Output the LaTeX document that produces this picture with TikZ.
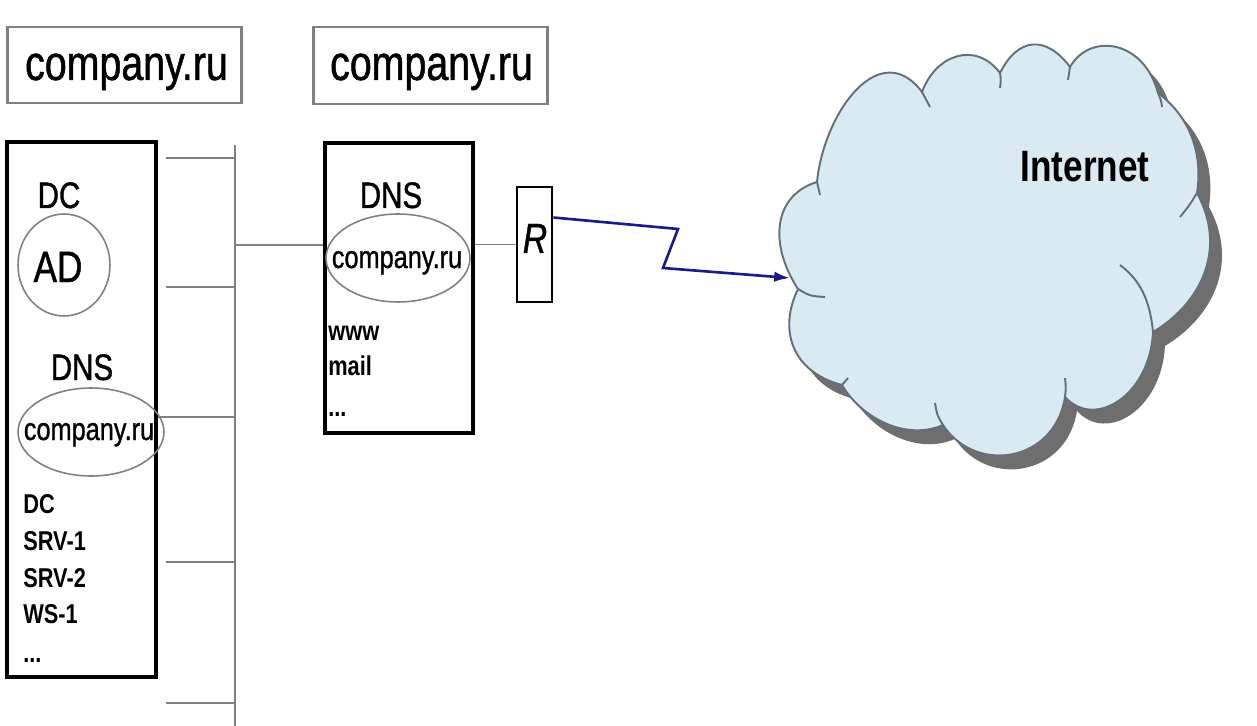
\documentclass[tikz,border=0pt]{standalone}
\usepackage{fontspec}
\setmainfont[FakeStretch=0.8, UprightFeatures={FakeBold=1}, ItalicFeatures={FakeBold=1}]{Liberation Sans}
\usetikzlibrary{arrows.meta,shadows,shapes.geometric}

\definecolor{wiregray}{RGB}{128,128,128}
\definecolor{cloudfill}{RGB}{218,234,243}
\definecolor{cloudline}{RGB}{100,112,120}
\definecolor{linkblue}{RGB}{26,26,140}

\newcommand\etcdots{...}

\tikzset{
  lblbox/.style={draw=wiregray, line width=1.2pt, inner sep=0pt, minimum width=4.68cm, minimum height=1.53cm},
  hostbox/.style={draw=black, line width=2.6pt, inner sep=0pt},
  zone/.style={draw=wiregray, ellipse, line width=0.9pt, inner sep=0pt},
  wire/.style={draw=wiregray, line width=1.1pt},
  txt/.style={inner sep=0pt, anchor=base},
  bigtxt/.style={txt, font=\fontsize{28}{32}\selectfont},
  headtxt/.style={txt, font=\fontsize{21}{24}\selectfont},
  zonetxt/.style={txt, font=\fontsize{18}{21}\selectfont},
  listtxt/.style={inner sep=0pt, anchor=base west, font=\bfseries\fontsize{15.5}{18}\selectfont},
  cloudedge/.style={draw=cloudline, line width=1.1pt}
}

\begin{document}
\begin{tikzpicture}[x=0.02cm, y=-0.02cm]
\useasboundingbox (0,0) rectangle (1257,726);

% zone labels
\node[lblbox] (lblA) at (124.5,65) {};
\node[bigtxt] (lblAtxt) at (126.5,80) {company.ru};
\node[lblbox] (lblB) at (430.5,65.5) {};
\node[bigtxt] (lblBtxt) at (431.5,80) {company.ru};

% domain controller
\node[hostbox, minimum width=2.98cm, minimum height=10.7cm] (dcbox) at (81.5,409.5) {};
\node[headtxt] (dchead) at (59,208) {DC};
\node[zone, minimum width=1.84cm, minimum height=2.04cm] (ad) at (64,265) {};
\node[txt, font=\fontsize{25}{28}\selectfont] (adtxt) at (58,282) {AD};
\node[headtxt] (dcdns) at (82,380) {DNS};
\node[zone, minimum width=2.92cm, minimum height=1.76cm] (dczone) at (91,432) {};
\node[zonetxt] (dczonetxt) at (89,440) {company.ru};
\foreach \y/\t [count=\i] in {513/DC, 550/SRV-1, 587/SRV-2, 623/WS-1, 662/\etcdots}
  \node[listtxt] (dcrec\i) at (23,\y) {\t};

% public DNS server
\node[hostbox, minimum width=2.96cm, minimum height=5.8cm] (dnsbox) at (399,288) {};
\node[headtxt] (dnshead) at (391,208) {DNS};
\node[zone, minimum width=2.88cm, minimum height=1.76cm] (dnszone) at (398,258) {};
\node[zonetxt] (dnszonetxt) at (397,268) {company.ru};
\foreach \y/\t [count=\i] in {340/www, 375/mail, 416/\etcdots}
  \node[listtxt] (dnsrec\i) at (328,\y) {\t};

% router
\node[draw, line width=1.6pt, inner sep=0pt, minimum width=0.7cm, minimum height=2.3cm] (R) at (534.5,244.5) {};
\node[txt, font=\itshape\fontsize{24}{28}\selectfont] (Rtxt) at (535,253) {R};

% LAN segment
\coordinate (bustop) at (235,145);
\coordinate (busbot) at (235,726);
\coordinate (busdc) at (235,417);
\coordinate (busdns) at (235,245);
\draw[wire] (bustop) -- (busbot);
\foreach \y in {158,287,562,703}
  \draw[wire] (166,\y) -- (235,\y);
\draw[wire] (busdc -| dcbox.east) -- (busdc);
\draw[wire] (busdns) -- (busdns -| dnsbox.west);
\draw[wire] (R.west -| dnsbox.east) -- (R.west);

% internet cloud
\path[cloudedge, fill=cloudfill,
  drop shadow={shadow xshift=6.8pt, shadow yshift=-7.9pt, fill=black!57, opacity=1}]
  (798,289) .. controls (768,243) and (774,195) .. (817,182)
  .. controls (824,112) and (880,36) .. (922,92)
  .. controls (936,54) and (976,41) .. (1000,73)
  .. controls (1018,37) and (1046,35) .. (1070,67)
  .. controls (1090,32) and (1144,40) .. (1158,93)
  .. controls (1190,117) and (1203,153) .. (1197,193)
  .. controls (1228,250) and (1200,304) .. (1153,332)
  .. controls (1150,395) and (1095,430) .. (1065,397)
  .. controls (1055,462) and (976,475) .. (943,425)
  .. controls (907,441) and (862,419) .. (842,385)
  .. controls (792,372) and (778,330) .. (798,289) -- cycle;
\draw[cloudedge]
  (798,289) .. controls (810,296) .. (825,297)
  (817,182) .. controls (819,189) .. (820,195)
  (922,92) .. controls (926,100) .. (930,107)
  (1000,73) .. controls (1001,80) .. (1000,88)
  (1070,67) .. controls (1069,74) .. (1068,80)
  (1158,93) .. controls (1161,100) .. (1162,107)
  (1197,193) .. controls (1189,206) .. (1180,217)
  (1153,332) .. controls (1150,300) and (1140,280) .. (1120,265)
  (1065,397) .. controls (1066,388) .. (1065,378)
  (943,425) .. controls (937,415) .. (935,403)
  (842,385) .. controls (845,381) .. (848,378);
\node[txt, font=\bfseries\fontsize{25}{28}\selectfont] (net) at (1085,182) {Internet};

% WAN link
\coordinate (zigA) at (678,229);
\coordinate (zigB) at (663,268);
\coordinate (netin) at (790,278);
\draw[linkblue, line width=1.5pt, -{Latex[length=9pt,width=6pt]}]
  (R.55) -- (zigA) -- (zigB) -- (netin);
\end{tikzpicture}
\end{document}
